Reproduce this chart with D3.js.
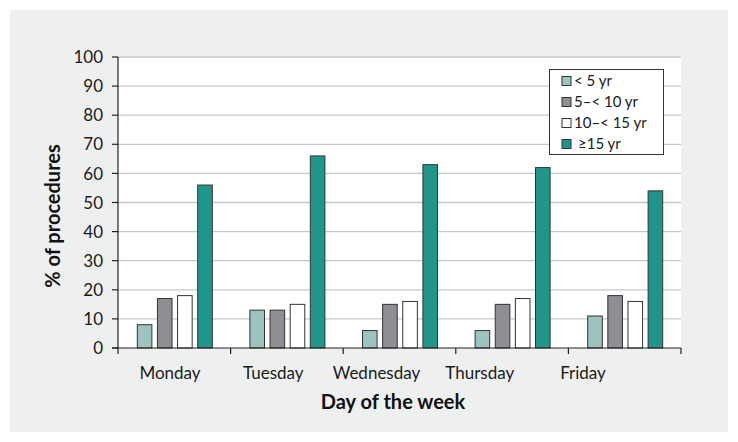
<!DOCTYPE html>
<html><head><meta charset="utf-8">
<script src="https://cdn.jsdelivr.net/npm/d3@7"></script>
<style>body{margin:0;background:#fff}svg{display:block}text{font-family:Lato,"Noto Sans",sans-serif}</style>
</head><body>
<svg id="c" width="738" height="442"></svg>
<script>
const categories = ["Monday","Tuesday","Wednesday","Thursday","Friday"];
const seriesNames = ["< 5 yr","5–< 10 yr","10–< 15 yr","≥15 yr"];
const under5 = [8,13,6,6,11];
const from5to10 = [17,13,15,15,18];
const from10to15 = [18,15,16,17,16];
const over15 = [56,66,63,62,54];
const yTicks = [0,10,20,30,40,50,60,70,80,90,100];
const colors = ["#9cc3c0","#8e8f93","#ffffff","#20968b"];
const series = [under5, from5to10, from10to15, over15];

const svg = d3.select("#c");
svg.append("rect").attr("x",10).attr("y",10).attr("width",718).attr("height",422).attr("fill","#eef0ef");

const L=118,R=681,T=57,B=348;
svg.append("rect").attr("x",L).attr("y",T).attr("width",R-L).attr("height",B-T).attr("fill","#fff");

const x = d3.scaleBand().domain(categories).range([L,R]);
const xLab = d3.scalePoint().domain(categories).range([170,583]);
const y = d3.scaleLinear().domain([0,100]).range([B,T]);
const xs = d3.scaleBand().domain(d3.range(4)).range([0,75]).paddingInner(0.275);

// grid
svg.append("g").selectAll("line").data(yTicks.filter(d=>d>0)).join("line")
  .attr("x1",L).attr("x2",R).attr("y1",d=>y(d)).attr("y2",d=>y(d))
  .attr("stroke","#c8c8c8").attr("stroke-width",1.3);

// bars
const groups = svg.append("g").selectAll("g").data(categories).join("g")
  .attr("transform",d=>`translate(${x(d)+x.bandwidth()/2-37},0)`);
groups.selectAll("rect").data((d,i)=>series.map((s,j)=>({j,v:s[i]}))).join("rect")
  .attr("x",d=>xs(d.j)).attr("width",xs.bandwidth())
  .attr("y",d=>y(d.v)).attr("height",d=>B-y(d.v))
  .attr("fill",d=>colors[d.j]).attr("stroke","#333").attr("stroke-width",1);

// axes
svg.append("line").attr("x1",L).attr("x2",L).attr("y1",T).attr("y2",B).attr("stroke","#222").attr("stroke-width",1.2);
svg.append("line").attr("x1",L-6).attr("x2",R).attr("y1",B).attr("y2",B).attr("stroke","#222").attr("stroke-width",1.2);
svg.append("g").selectAll("line").data(yTicks).join("line")
  .attr("x1",L-6).attr("x2",L).attr("y1",d=>y(d)).attr("y2",d=>y(d)).attr("stroke","#222").attr("stroke-width",1.2);
const xt = categories.map(c=>x(c)).concat([R]);
svg.append("g").selectAll("line").data(xt).join("line")
  .attr("x1",d=>d).attr("x2",d=>d).attr("y1",B).attr("y2",B+6).attr("stroke","#222").attr("stroke-width",1.2);

svg.append("g").selectAll("text").data(yTicks).join("text")
  .attr("x",103).attr("y",d=>y(d)).attr("dy","0.36em").attr("text-anchor","end")
  .attr("font-size",17).attr("fill","#1a1a1a").text(d=>d);
svg.append("g").selectAll("text").data(categories).join("text")
  .attr("x",d=>xLab(d)).attr("y",379).attr("text-anchor","middle")
  .attr("font-size",17).attr("fill","#1a1a1a").text(d=>d);

svg.append("text").attr("x",393).attr("y",409).attr("text-anchor","middle")
  .attr("font-size",20).attr("font-weight","bold").attr("fill","#111").text("Day of the week");
svg.append("text").attr("transform","translate(60,216) rotate(-90)").attr("text-anchor","middle")
  .attr("font-size",20).attr("font-weight","bold").attr("fill","#111").text("% of procedures");

// legend
const lg = svg.append("g");
lg.append("rect").attr("x",549.5).attr("y",69.5).attr("width",114).attr("height",85).attr("fill","#fff").attr("stroke","#333");
const ly = d3.scalePoint().domain(seriesNames).range([81,144]);
const items = lg.selectAll("g").data(seriesNames).join("g").attr("transform",d=>`translate(0,${ly(d)})`);
items.append("rect").attr("x",562).attr("y",-4.5).attr("width",9).attr("height",9)
  .attr("fill",(d,i)=>colors[i]).attr("stroke","#333");
items.append("text").attr("x",(d,i)=>i===3?578:574).attr("y",0).attr("dy","0.36em")
  .attr("font-size",15).attr("fill","#1a1a1a").text(d=>d);
</script>
</body></html>
